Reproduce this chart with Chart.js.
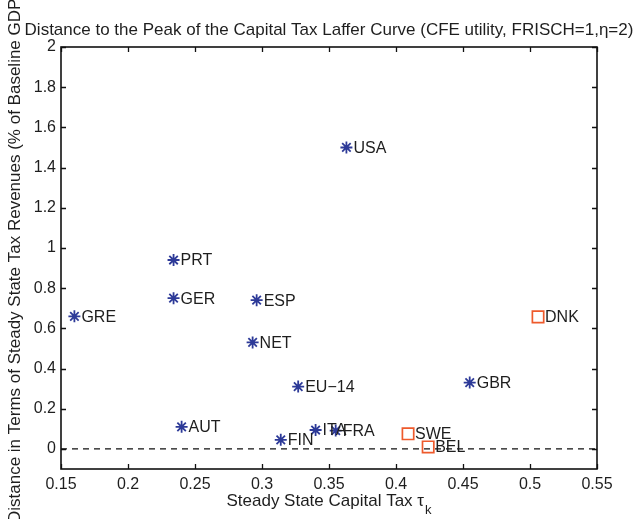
<!DOCTYPE html>
<html><head><meta charset="utf-8">
<script src="https://cdn.jsdelivr.net/npm/chart.js@4.4.0/dist/chart.umd.min.js"></script>
<style>html,body{margin:0;padding:0;background:#fff;}#wrap{width:640px;height:519px;}</style>
</head><body><div id="wrap"><canvas id="c" width="640" height="519"></canvas></div>
<script>
// Data
const starCountries = ['GRE','PRT','GER','ESP','NET','USA','EU\u221214','GBR','AUT','FIN','ITA','FRA'];
const starTaxK      = [0.160, 0.234, 0.234, 0.296, 0.293, 0.363, 0.327, 0.455, 0.240, 0.314, 0.340, 0.355];
const starDistance  = [0.66,  0.94,  0.75,  0.74,  0.53,  1.50,  0.31,  0.33,  0.11,  0.045, 0.094, 0.091];
const sqCountries = ['DNK','SWE','BEL'];
const sqTaxK      = [0.506, 0.409, 0.424];
const sqDistance  = [0.657, 0.075, 0.010];
const xTicks = [0.15,0.2,0.25,0.3,0.35,0.4,0.45,0.5,0.55];
const xTickLabels = ['0.15','0.2','0.25','0.3','0.35','0.4','0.45','0.5','0.55'];
const yTicks = [0,0.2,0.4,0.6,0.8,1,1.2,1.4,1.6,1.8,2];
const yTickLabels = ['0','0.2','0.4','0.6','0.8','1','1.2','1.4','1.6','1.8','2'];
const zeroLineX = [0.15, 0.55];
const zeroLineY = [0, 0];
const titleText = 'Distance to the Peak of the Capital Tax Laffer Curve (CFE utility, FRISCH=1,\u03b7=2)';
const xTitle = 'Steady State Capital Tax \u03c4';
const xTitleSub = 'k';
const yTitle = 'Distance in Terms of Steady State Tax Revenues (% of Baseline GDP)';

const FONT = '"Liberation Sans", Arial, Helvetica, sans-serif';
const TXT = '#1e1e1e';

const decorPlugin = {
  id: 'decor',
  beforeDatasetsDraw(chart) {
    const ctx = chart.ctx, a = chart.chartArea;
    const xs = chart.scales.x, ys = chart.scales.y;
    ctx.save();
    ctx.strokeStyle = '#111';
    ctx.lineWidth = 1.3;
    ctx.beginPath();
    xTicks.forEach(v => {
      const px = Math.round(xs.getPixelForValue(v)) + 0.5;
      ctx.moveTo(px, a.bottom); ctx.lineTo(px, a.bottom - 5);
      ctx.moveTo(px, a.top); ctx.lineTo(px, a.top + 5);
    });
    yTicks.forEach(v => {
      const py = Math.round(ys.getPixelForValue(v)) + 0.5;
      ctx.moveTo(a.left, py); ctx.lineTo(a.left + 5, py);
      ctx.moveTo(a.right, py); ctx.lineTo(a.right - 5, py);
    });
    ctx.stroke();
    ctx.restore();
  },
  afterDatasetsDraw(chart) {
    const ctx = chart.ctx, a = chart.chartArea;
    ctx.save();
    // country labels
    ctx.font = '16px ' + FONT;
    ctx.fillStyle = TXT;
    ctx.textBaseline = 'middle';
    ctx.textAlign = 'left';
    const m0 = chart.getDatasetMeta(0), m1 = chart.getDatasetMeta(1);
    m0.data.forEach((p, i) => ctx.fillText(starCountries[i], p.x + 7, p.y + 1));
    m1.data.forEach((p, i) => ctx.fillText(sqCountries[i], p.x + 7, p.y + 1));
    // frame
    ctx.strokeStyle = '#111';
    ctx.lineWidth = 1.6;
    ctx.strokeRect(a.left, a.top, a.right - a.left, a.bottom - a.top);
    // title
    const cx = (a.left + a.right) / 2;
    ctx.font = '17px ' + FONT;
    ctx.textAlign = 'center';
    ctx.textBaseline = 'middle';
    ctx.fillText(titleText, cx, 30);
    // x title with subscript
    ctx.font = '17px ' + FONT;
    const w1 = ctx.measureText(xTitle).width;
    ctx.font = '13px ' + FONT;
    const w2 = ctx.measureText(xTitleSub).width;
    const sx = cx - (w1 + w2 + 1) / 2;
    ctx.textAlign = 'left';
    ctx.font = '17px ' + FONT;
    ctx.fillText(xTitle, sx, 501);
    ctx.font = '13px ' + FONT;
    ctx.fillText(xTitleSub, sx + w1 + 1, 510);
    // y title
    ctx.translate(15, (a.top + a.bottom) / 2);
    ctx.rotate(-Math.PI / 2);
    ctx.font = '17px ' + FONT;
    ctx.textAlign = 'center';
    ctx.fillText(yTitle, 0, 0);
    ctx.restore();
  }
};

new Chart(document.getElementById('c'), {
  type: 'scatter',
  data: {
    datasets: [
      {
        label: 'stars',
        data: starTaxK.map((x, i) => ({x: x, y: starDistance[i]})),
        pointStyle: 'star',
        pointRadius: 6,
        borderColor: '#2d3a98',
        backgroundColor: '#2d3a98',
        borderWidth: 1.8
      },
      {
        label: 'squares',
        data: sqTaxK.map((x, i) => ({x: x, y: sqDistance[i]})),
        pointStyle: 'rect',
        pointRadius: 8,
        borderColor: '#ee5a2c',
        backgroundColor: 'rgba(0,0,0,0)',
        borderWidth: 1.7
      },
      {
        label: 'zero',
        type: 'line',
        data: zeroLineX.map((x, i) => ({x: x, y: zeroLineY[i]})),
        borderColor: '#111',
        borderWidth: 1.4,
        borderDash: [6, 5],
        pointRadius: 0,
        fill: false
      }
    ]
  },
  options: {
    responsive: false,
    animation: false,
    devicePixelRatio: 1,
    layout: { padding: { top: 47, right: 43, left: 0, bottom: 0 } },
    plugins: { legend: { display: false }, tooltip: { enabled: false }, title: { display: false } },
    scales: {
      x: {
        type: 'linear', min: 0.15, max: 0.55,
        afterBuildTicks: s => { s.ticks = xTicks.map(v => ({value: v})); },
        afterFit: s => { s.height = 50; },
        grid: { display: false, drawTicks: false },
        border: { display: false },
        ticks: {
          autoSkip: false, maxRotation: 0, padding: 6,
          color: TXT, font: { family: FONT, size: 16 },
          callback: (v, i) => xTickLabels[i]
        }
      },
      y: {
        type: 'linear', min: -0.1, max: 2,
        afterBuildTicks: s => { s.ticks = yTicks.map(v => ({value: v})); },
        afterFit: s => { s.width = 61; },
        grid: { display: false, drawTicks: false },
        border: { display: false },
        ticks: {
          autoSkip: false, padding: 5,
          color: TXT, font: { family: FONT, size: 16 },
          callback: (v, i) => yTickLabels[i]
        }
      }
    }
  },
  plugins: [decorPlugin]
});
</script>
</body></html>
